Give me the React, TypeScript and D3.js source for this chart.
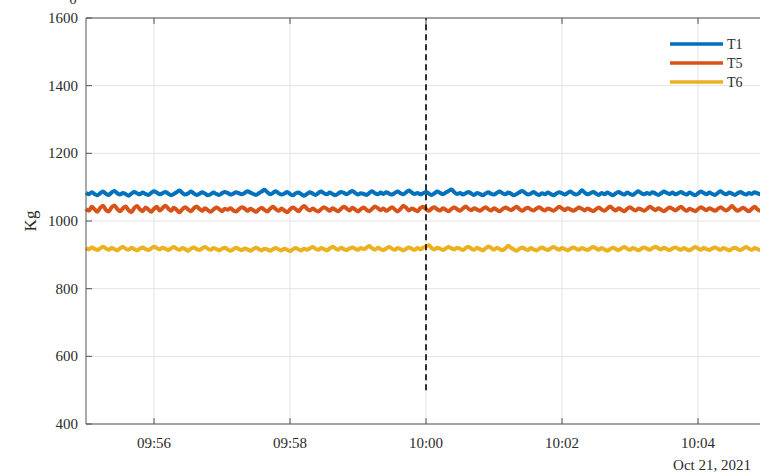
import React, { useEffect, useRef } from 'react';
import * as d3 from 'd3';

// samples every 2.5 s from 09:55:00 to 10:05:00
const startTime = new Date(2021, 9, 21, 9, 55, 0);
const stepMs = 2500;

const t1Values = [
  1083, 1079, 1085, 1080, 1076, 1082, 1087, 1081, 1077, 1084, 1089, 1082, 1078, 1083, 1080, 1075, 1081, 1086, 1082, 1079,
  1084, 1080, 1077, 1083, 1088, 1084, 1079, 1082, 1086, 1081, 1076, 1080, 1085, 1090, 1083, 1078, 1081, 1087, 1082, 1077,
  1080, 1085, 1081, 1076, 1079, 1084, 1080, 1077, 1082, 1086, 1083, 1078, 1081, 1085, 1082, 1079, 1083, 1088, 1084, 1080,
  1077, 1082, 1087, 1092, 1085, 1079, 1083, 1088, 1082, 1078, 1081, 1086, 1080, 1076, 1082, 1084, 1079, 1075, 1080, 1085,
  1081, 1077, 1083, 1087, 1082, 1079, 1084, 1080, 1076, 1081, 1086, 1083, 1079, 1084, 1089, 1083, 1078, 1082, 1080, 1077,
  1083, 1088, 1082, 1079, 1084, 1080, 1085, 1081, 1078, 1083, 1087, 1082, 1079, 1085, 1090, 1084, 1080, 1083, 1079, 1082,
  1086, 1081, 1077, 1082, 1087, 1083, 1079, 1084, 1089, 1093, 1085, 1080, 1083, 1078, 1082, 1086, 1081, 1077, 1083, 1080,
  1076, 1081, 1085, 1080, 1078, 1083, 1087, 1082, 1079, 1084, 1081, 1076, 1080, 1085, 1089, 1083, 1078, 1081, 1086, 1080,
  1077, 1082, 1079, 1084, 1080, 1076, 1081, 1085, 1082, 1078, 1083, 1087, 1081, 1078, 1082, 1091, 1084, 1079, 1082, 1086,
  1081, 1077, 1083, 1079, 1084, 1080, 1076, 1082, 1086, 1081, 1078, 1084, 1080, 1077, 1083, 1088, 1082, 1079, 1083, 1080,
  1085, 1081, 1077, 1082, 1087, 1083, 1080, 1084, 1079, 1082, 1086, 1081, 1078, 1084, 1080, 1076, 1082, 1087, 1083, 1079,
  1084, 1080, 1077, 1083, 1088, 1082, 1079, 1084, 1081, 1077, 1082, 1086, 1081, 1078, 1083, 1080, 1085, 1082, 1079, 1083,
  1081,
];

const t5Values = [
  1036, 1030, 1042, 1035, 1027, 1039, 1045, 1033, 1028, 1040, 1046, 1036, 1029, 1037, 1043, 1032, 1026, 1038, 1044, 1035,
  1029, 1040, 1034, 1027, 1036, 1042, 1031, 1038, 1045, 1037, 1030, 1039, 1033, 1026, 1035, 1041, 1034, 1029, 1037, 1043,
  1036, 1030, 1038, 1032, 1027, 1034, 1040, 1035, 1029, 1036, 1033, 1038, 1031, 1028, 1035, 1041, 1037, 1030, 1036, 1032,
  1027, 1034, 1039, 1033, 1028, 1036, 1042, 1035, 1030, 1037, 1031, 1026, 1034, 1040, 1035, 1029, 1038, 1044, 1036, 1031,
  1037, 1032, 1028, 1035, 1041, 1036, 1030, 1038, 1033, 1029, 1036, 1042, 1037, 1031, 1039, 1034, 1028, 1035, 1040, 1033,
  1029, 1036, 1043, 1038, 1032, 1037, 1030, 1035, 1041, 1034, 1028, 1036, 1045, 1039, 1031, 1037, 1033, 1029, 1038, 1042,
  1035, 1030, 1037, 1041, 1034, 1031, 1038, 1033, 1029, 1036, 1040, 1035, 1030, 1037, 1043, 1036, 1032, 1038, 1034, 1030,
  1036, 1041, 1035, 1031, 1038, 1033, 1029, 1035, 1040, 1036, 1032, 1037, 1042, 1035, 1030, 1036, 1039, 1034, 1031, 1037,
  1041, 1035, 1031, 1037, 1034, 1030, 1036, 1042, 1037, 1032, 1038, 1034, 1030, 1035, 1040, 1036, 1031, 1037, 1033, 1029,
  1035, 1040, 1034, 1030, 1037, 1043, 1036, 1031, 1038, 1033, 1029, 1036, 1041, 1035, 1031, 1037, 1034, 1030, 1036, 1042,
  1037, 1032, 1038, 1033, 1029, 1035, 1040, 1036, 1031, 1037, 1042, 1035, 1030, 1036, 1033, 1029, 1035, 1041, 1036, 1032,
  1038, 1034, 1030, 1036, 1041, 1035, 1031, 1037, 1044, 1036, 1030, 1035, 1039, 1033, 1029, 1036, 1042, 1034, 1030, 1037,
  1033,
];

const t6Values = [
  920, 916, 922, 918, 914, 919, 924, 919, 915, 920, 917, 913, 919, 923, 918, 915, 921, 917, 913, 918,
  922, 917, 914, 919, 924, 920, 916, 921, 918, 914, 919, 923, 918, 915, 920, 917, 912, 918, 922, 917,
  914, 919, 923, 918, 915, 920, 917, 913, 918, 921, 916, 912, 917, 921, 917, 914, 919, 916, 912, 917,
  921, 917, 913, 918, 916, 912, 917, 920, 916, 913, 918, 915, 911, 916, 920, 916, 913, 918, 915, 919,
  923, 918, 915, 920, 917, 913, 919, 924, 919, 915, 921, 917, 914, 919, 922, 918, 915, 920, 917, 921,
  926, 919, 915, 921, 917, 914, 919, 923, 918, 915, 920, 917, 913, 918, 922, 918, 915, 920, 916, 921,
  925, 928, 920, 916, 921, 918, 914, 919, 923, 919, 916, 921, 918, 914, 920, 924, 918, 915, 921, 917,
  913, 919, 925, 920, 915, 921, 917, 914, 919, 927, 921, 916, 912, 918, 922, 917, 914, 920, 916, 913,
  918, 922, 917, 914, 919, 923, 919, 915, 920, 917, 913, 918, 922, 918, 915, 920, 917, 914, 919, 923,
  919, 915, 920, 916, 912, 917, 921, 917, 914, 919, 923, 918, 915, 920, 917, 913, 918, 922, 918, 915,
  920, 924, 919, 916, 921, 917, 914, 919, 922, 918, 915, 920, 916, 913, 918, 923, 919, 915, 920, 917,
  914, 919, 922, 918, 915, 920, 917, 913, 918, 921, 917, 914, 919, 923, 918, 915, 920, 917, 914, 919,
  918,
];

const seriesNames = ['T1', 'T5', 'T6'];
const seriesColors = ['#0072BD', '#D95319', '#EDB120'];
const yTicks = [400, 600, 800, 1000, 1200, 1400, 1600];
const xTickLabels = ['09:56', '09:58', '10:00', '10:02', '10:04'];
const markerTime = new Date(2021, 9, 21, 10, 0, 0);
const markerRange = [500, 1600];

function App() {
  const svgRef = useRef<SVGSVGElement>(null);

  useEffect(() => {
    const svg = d3.select(svgRef.current);
    svg.selectAll('*').remove();

    const width = 760;
    const height = 475;
    const margin = { top: 18, right: -6, bottom: 51, left: 86 };
    const font = 'Liberation Serif';
    const textColor = '#2b2b2b';

    const x = d3
      .scaleTime()
      .domain([startTime, new Date(startTime.getTime() + 10 * 60000)])
      .range([margin.left, width - margin.right]);

    const y = d3
      .scaleLinear()
      .domain([400, 1600])
      .range([height - margin.bottom, margin.top]);

    const xTicks = xTickLabels.map((s) => {
      const [h, m] = s.split(':').map(Number);
      return new Date(2021, 9, 21, h, m, 0);
    });

    // grid
    svg.append('g')
      .selectAll('line')
      .data(xTicks)
      .enter().append('line')
      .attr('x1', (d) => x(d)).attr('x2', (d) => x(d))
      .attr('y1', margin.top).attr('y2', height - margin.bottom)
      .attr('stroke', '#e3e3e3').attr('stroke-width', 1);

    svg.append('g')
      .selectAll('line')
      .data(yTicks)
      .enter().append('line')
      .attr('x1', margin.left).attr('x2', width)
      .attr('y1', (d) => y(d)).attr('y2', (d) => y(d))
      .attr('stroke', '#e3e3e3').attr('stroke-width', 1);

    // data lines
    const allSeries = [t1Values, t5Values, t6Values];
    const line = d3
      .line<number>()
      .x((_, i) => x(new Date(startTime.getTime() + i * stepMs)))
      .y((d) => y(d))
      .curve(d3.curveMonotoneX);

    allSeries.forEach((vals, k) => {
      svg.append('path')
        .datum(vals)
        .attr('fill', 'none')
        .attr('stroke', seriesColors[k])
        .attr('stroke-width', 4)
        .attr('stroke-linejoin', 'round')
        .attr('d', line);
    });

    // vertical dashed marker at 10:00
    svg.append('line')
      .attr('x1', x(markerTime)).attr('x2', x(markerTime))
      .attr('y1', y(markerRange[0])).attr('y2', y(markerRange[1]))
      .attr('stroke', '#000').attr('stroke-width', 1.6)
      .attr('stroke-dasharray', '6,4');

    // axes box
    const axisColor = '#555';
    [400, 1600].forEach((v) => {
      svg.append('line')
        .attr('x1', margin.left).attr('x2', width)
        .attr('y1', y(v)).attr('y2', y(v))
        .attr('stroke', axisColor).attr('stroke-width', 1);
    });
    svg.append('line')
      .attr('x1', margin.left).attr('x2', margin.left)
      .attr('y1', y(400)).attr('y2', y(1600))
      .attr('stroke', axisColor).attr('stroke-width', 1);

    // inward ticks
    xTicks.forEach((t) => {
      svg.append('line')
        .attr('x1', x(t)).attr('x2', x(t))
        .attr('y1', y(400)).attr('y2', y(400) - 6)
        .attr('stroke', axisColor);
      svg.append('line')
        .attr('x1', x(t)).attr('x2', x(t))
        .attr('y1', y(1600)).attr('y2', y(1600) + 6)
        .attr('stroke', axisColor);
    });
    yTicks.forEach((v) => {
      svg.append('line')
        .attr('x1', margin.left).attr('x2', margin.left + 6)
        .attr('y1', y(v)).attr('y2', y(v))
        .attr('stroke', axisColor);
    });

    // tick labels
    svg.append('g')
      .selectAll('text')
      .data(xTicks)
      .enter().append('text')
      .attr('x', (d) => x(d))
      .attr('y', y(400) + 24)
      .attr('text-anchor', 'middle')
      .attr('font-family', font).attr('font-size', 15).attr('fill', textColor)
      .text((_, i) => xTickLabels[i]);

    svg.append('text')
      .attr('x', 751).attr('y', 470)
      .attr('text-anchor', 'end')
      .attr('font-family', font).attr('font-size', 15).attr('fill', textColor)
      .text('Oct 21, 2021');

    svg.append('g')
      .selectAll('text')
      .data(yTicks)
      .enter().append('text')
      .attr('x', margin.left - 8)
      .attr('y', (d) => y(d) + 5)
      .attr('text-anchor', 'end')
      .attr('font-family', font).attr('font-size', 15).attr('fill', textColor)
      .text((d) => String(d));

    // partly hidden text above the axes
    svg.append('text')
      .attr('x', 73).attr('y', 4)
      .attr('text-anchor', 'middle')
      .attr('font-family', font).attr('font-size', 15).attr('fill', textColor)
      .text('0');

    // y label
    svg.append('text')
      .attr('transform', `translate(36, ${y(1000)}) rotate(-90)`)
      .attr('text-anchor', 'middle')
      .attr('font-family', font).attr('font-size', 17).attr('fill', textColor)
      .text('Kg');

    // legend
    const legend = svg.append('g');
    seriesNames.forEach((name, k) => {
      const ly = 44 + k * 19;
      legend.append('line')
        .attr('x1', 670).attr('x2', 723)
        .attr('y1', ly).attr('y2', ly)
        .attr('stroke', seriesColors[k]).attr('stroke-width', 3.5);
      legend.append('text')
        .attr('x', 727).attr('y', ly + 5)
        .attr('font-family', font).attr('font-size', 14).attr('fill', textColor)
        .text(name);
    });
  }, []);

  return (
    <div style={{ position: 'fixed', left: 0, top: 0, width: 760, height: 475, background: '#fff' }}>
      <svg ref={svgRef} width={760} height={475} style={{ display: 'block' }}></svg>
    </div>
  );
}

export default App;
